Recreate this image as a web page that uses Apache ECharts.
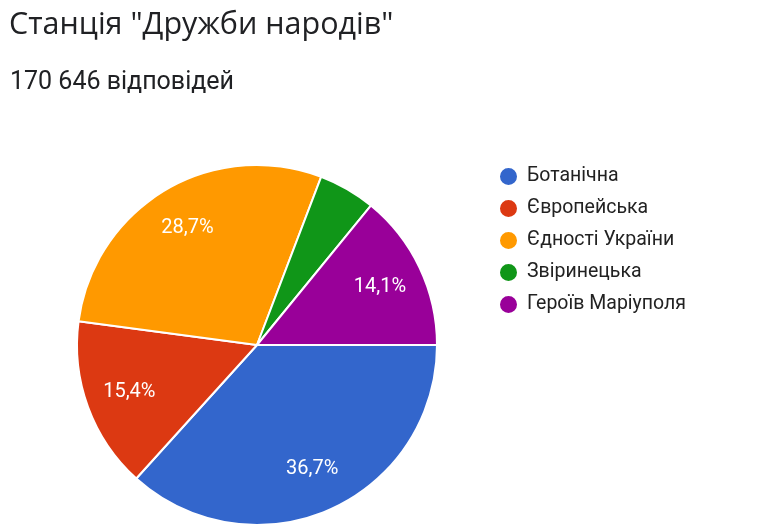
<!DOCTYPE html>
<html>
<head>
<meta charset="utf-8">
<script src="https://cdn.jsdelivr.net/npm/echarts@6/dist/echarts.min.js"></script>
<style>
html,body{margin:0;padding:0;background:#fff;}
#chart{width:758px;height:530px;}
</style>
</head>
<body>
<div id="chart"></div>
<script>
// станції та частки відповідей, %
var stations = ['Ботанічна', 'Європейська', 'Єдності України', 'Звіринецька', 'Героїв Маріуполя'];
var shares = [36.7, 15.4, 28.7, 5.1, 14.1];
var answers = '170 646 відповідей';
var title = 'Станція "Дружби народів"';

var colors = ['#3366cc', '#dc3912', '#ff9900', '#109618', '#990099'];

function pct(v) {
	return v.toFixed(1).replace('.', ',') + '%';
}

var pieData = [], labelData = [];
for (var i = 0; i < stations.length; i++) {
	pieData.push({ name: stations[i], value: shares[i] });
	// маленький сектор без підпису
	labelData.push({ name: stations[i], value: shares[i], label: { show: shares[i] >= 10 } });
}

var option = {
	color: colors,
	animation: false,
	title: [
		{
			text: title,
			left: 4,
			top: 5,
			textStyle: { fontFamily: 'Open Sans', fontSize: 30.5, fontWeight: 'normal', color: '#202124' }
		},
		{
			text: answers,
			left: 5,
			top: 65,
			textStyle: { fontFamily: 'Roboto', fontSize: 25, fontWeight: 'normal', color: '#202124' }
		}
	],
	legend: {
		orient: 'vertical',
		left: 493,
		top: 161,
		icon: 'circle',
		itemWidth: 19,
		itemHeight: 19,
		itemGap: 11,
		data: stations,
		textStyle: { fontFamily: 'Roboto', fontSize: 19.5, color: '#222', padding: [0, 0, 0, 4] }
	},
	series: [
		{
			type: 'pie',
			center: [257, 345],
			radius: [0, 180],
			startAngle: 0,
			clockwise: true,
			data: pieData,
			label: { show: false },
			labelLine: { show: false },
			itemStyle: { borderColor: '#fff', borderWidth: 2 },
			emphasis: { disabled: true }
		},
		{
			// прозора копія лише для підписів, щоб вони стояли ближче до краю
			type: 'pie',
			center: [257, 345],
			radius: [0, 266],
			startAngle: 0,
			clockwise: true,
			silent: true,
			data: labelData,
			itemStyle: { color: 'rgba(0,0,0,0)', borderWidth: 0 },
			label: {
				position: 'inside',
				color: '#fff',
				fontFamily: 'Roboto',
				fontSize: 20,
				formatter: function (p) { return pct(p.value); }
			},
			labelLine: { show: false },
			emphasis: { disabled: true }
		}
	]
};

var myChart = echarts.init(document.getElementById('chart'));
myChart.setOption(option);
</script>
</body>
</html>
